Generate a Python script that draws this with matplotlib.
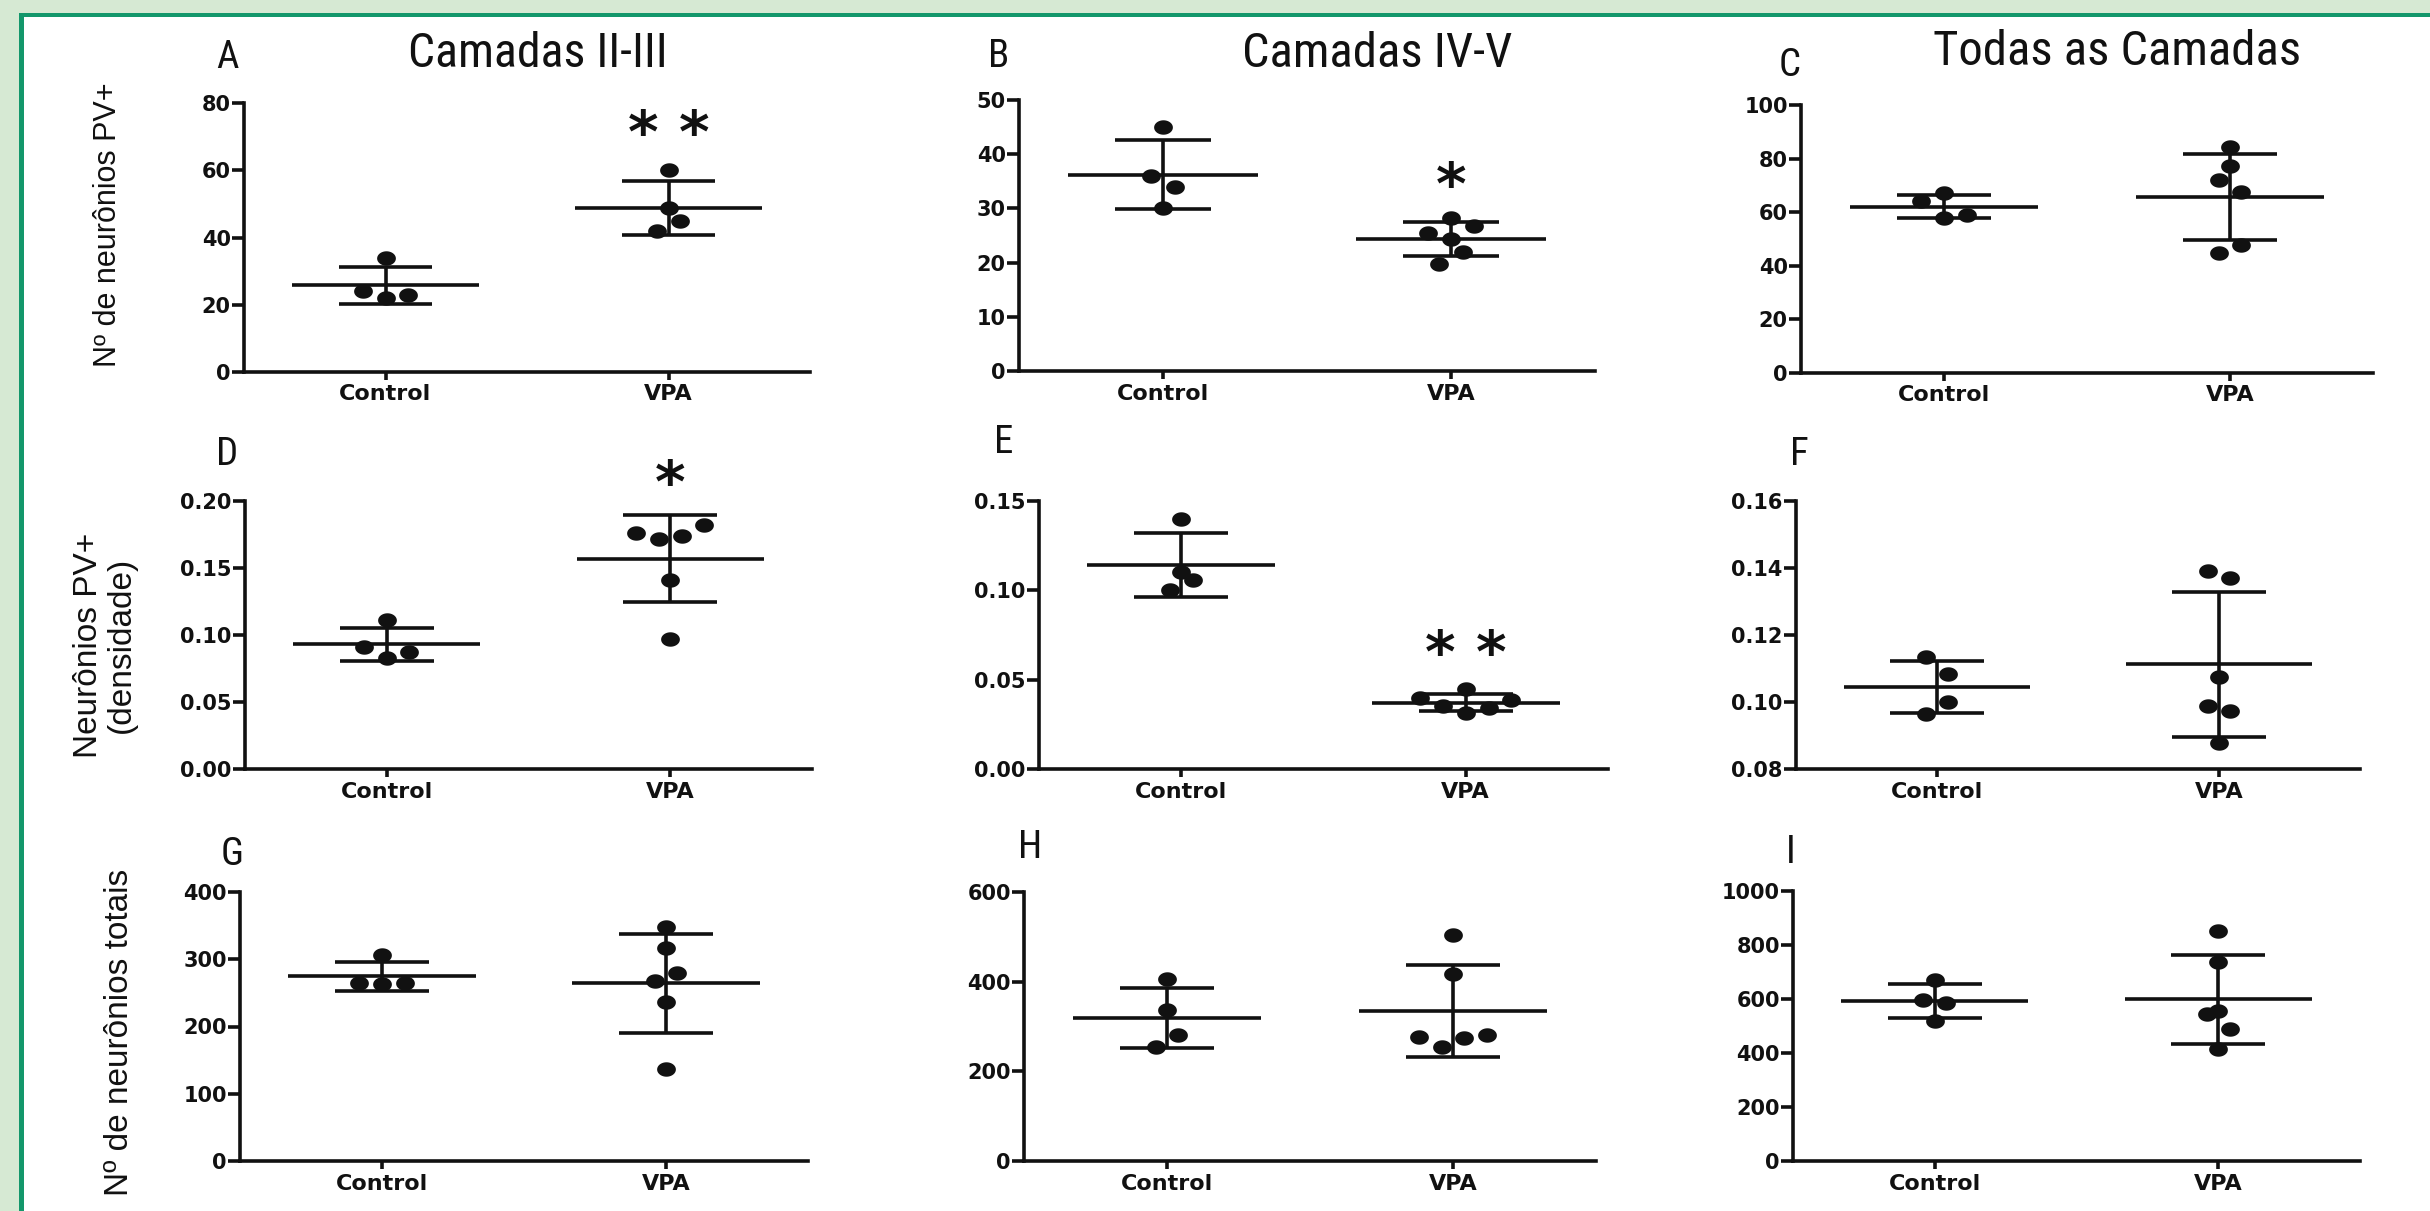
import os
import numpy as np
import matplotlib
matplotlib.use("Agg")
import matplotlib.pyplot as plt
from matplotlib.path import Path
from matplotlib.patches import Rectangle
from matplotlib import font_manager as fm
from matplotlib.ticker import FormatStrFormatter
import matplotlib.transforms as mtransforms

# ---------------- data ----------------
groups = ["Control", "VPA"]

a_control = [34, 24, 22, 23]
a_vpa = [60, 48.7, 44.8, 41.8]
b_control = [45, 36, 34, 30]
b_vpa = [28.3, 25.4, 26.8, 24.4, 21.9, 19.8]
c_control = [64, 67, 58, 59]
c_vpa = [84.5, 77.4, 72.0, 67.5, 47.8, 44.7]
d_control = [0.111, 0.091, 0.087, 0.083]
d_vpa = [0.176, 0.172, 0.174, 0.182, 0.141, 0.097]
e_control = [0.140, 0.110, 0.106, 0.100]
e_vpa = [0.0395, 0.0445, 0.0386, 0.0354, 0.0339, 0.0311]
f_control = [0.1133, 0.1083, 0.0999, 0.0963]
f_vpa = [0.1391, 0.1370, 0.1074, 0.0988, 0.0973, 0.0877]
g_control = [307, 264, 263, 264]
g_vpa = [348, 317, 280, 268, 237, 137]
h_control = [405, 336, 282, 254]
h_vpa = [503, 418, 277, 275, 280, 254]
i_control = [669, 597, 586, 517]
i_vpa = [852, 736, 544, 555, 490, 414]

a_ticks = [0, 20, 40, 60, 80]
b_ticks = [0, 10, 20, 30, 40, 50]
c_ticks = [0, 20, 40, 60, 80, 100]
d_ticks = [0.00, 0.05, 0.10, 0.15, 0.20]
e_ticks = [0.00, 0.05, 0.10, 0.15]
f_ticks = [0.08, 0.10, 0.12, 0.14, 0.16]
g_ticks = [0, 100, 200, 300, 400]
h_ticks = [0, 200, 400, 600]
i_ticks = [0, 200, 400, 600, 800, 1000]

col_titles = ["Camadas II-III", "Camadas IV-V", "Todas as Camadas"]
row_labels = ["Nº de neurônios PV+", "Neurônios PV+\n(densidade)", "Nº de neurônios totais"]
panel_letters = ["A", "B", "C", "D", "E", "F", "G", "H", "I"]

# ---------------- layout / style ----------------
W, H = 2430, 1211
K = "#111111"
LW = 2.6

# horizontal spread of the dots (data units), per group
a_dx = ([0, -0.08, 0, 0.08], [0, 0, 0.04, -0.04])
b_dx = ([0, -0.04, 0.04, 0], [0, -0.08, 0.08, 0, 0.04, -0.04])
c_dx = ([-0.08, 0, 0, 0.08], [0, 0, -0.04, 0.04, 0.04, -0.04])
d_dx = ([0, -0.08, 0.08, 0], [-0.12, -0.04, 0.04, 0.12, 0, 0])
e_dx = ([0, 0, 0.04, -0.04], [-0.16, 0, 0.16, -0.08, 0.08, 0])
f_dx = ([-0.04, 0.04, 0.04, -0.04], [-0.04, 0.04, 0, -0.04, 0.04, 0])
g_dx = ([0, -0.08, 0, 0.08], [0, 0, 0.04, -0.04, 0, 0])
h_dx = ([0, 0, 0.04, -0.04], [0, 0, -0.12, 0.04, 0.12, -0.04])
i_dx = ([0, -0.04, 0.04, 0], [0, 0, -0.04, 0, 0.04, 0])

# axes boxes in pixels: left, right, top(tick max), bottom(tick min)
panels = [
    dict(c=a_control, v=a_vpa, dx=a_dx, ticks=a_ticks, fmt="%d", box=(244, 810, 103, 372),
         sig="* *", sig_xy=(1.0, 74.9)),
    dict(c=b_control, v=b_vpa, dx=b_dx, ticks=b_ticks, fmt="%d", box=(1019, 1595, 100, 371),
         sig="*", sig_xy=(1.0, 36.7)),
    dict(c=c_control, v=c_vpa, dx=c_dx, ticks=c_ticks, fmt="%d", box=(1801, 2373, 105, 373),
         sig=None, sig_xy=None),
    dict(c=d_control, v=d_vpa, dx=d_dx, ticks=d_ticks, fmt="%.2f", box=(245, 812, 501, 769),
         sig="*", sig_xy=(1.0, 0.223)),
    dict(c=e_control, v=e_vpa, dx=e_dx, ticks=e_ticks, fmt="%.2f", box=(1039, 1608, 501, 769),
         sig="* *", sig_xy=(1.0, 0.072)),
    dict(c=f_control, v=f_vpa, dx=f_dx, ticks=f_ticks, fmt="%.2f", box=(1796, 2360, 501, 769),
         sig=None, sig_xy=None),
    dict(c=g_control, v=g_vpa, dx=g_dx, ticks=g_ticks, fmt="%d", box=(240, 808, 892, 1161),
         sig=None, sig_xy=None),
    dict(c=h_control, v=h_vpa, dx=h_dx, ticks=h_ticks, fmt="%d", box=(1024, 1596, 892, 1161),
         sig=None, sig_xy=None),
    dict(c=i_control, v=i_vpa, dx=i_dx, ticks=i_ticks, fmt="%d", box=(1793, 2360, 891, 1161),
         sig=None, sig_xy=None),
]

letter_pos = [(227, 68), (999, 67), (1790, 76), (227, 465), (1004, 453), (1799, 465),
              (232, 865), (1030, 858), (1791, 863)]
# title: centre x, baseline y, target width (px)
title_pos = [(538, 67, 260), (1377, 67, 273), (2117, 65, 368)]
rowlabel_pos = [(108, 225, 22), (105, 645, 24), (120, 1032, 24)]


def pick_narrow():
    prefs = ["LiberationSansNarrow-Regular", "ArialNarrow", "Arial Narrow",
             "NotoSans-ExtraCondensed.", "NotoSans-Condensed.",
             "RobotoCondensed-Regular", "OpenSans_Condensed-Regular",
             "OpenSans-CondensedRegular", "NotoSans-SemiCondensed.", "DejaVuSansCondensed."]
    files = [f.fname for f in fm.fontManager.ttflist]
    for p in prefs:
        for fn in files:
            if p in os.path.basename(fn):
                return fm.FontProperties(fname=fn)
    return fm.FontProperties(family="DejaVu Sans", stretch="condensed")


NARROW = pick_narrow()
SANS = ["Liberation Sans", "DejaVu Sans"]

# elliptical dot (graph images are horizontally stretched)
th = np.linspace(0, 2 * np.pi, 72)
ell = Path(np.column_stack([1.3 * np.cos(th), np.sin(th)]), closed=True)

fig = plt.figure(figsize=(W / 100, H / 100), dpi=100)
fig.patch.set_facecolor("#d6e9d3")
fig.add_artist(Rectangle((24 / W, 0), 1, 1 - 17 / H, transform=fig.transFigure,
                         fc="white", ec="none", zorder=-5))
fig.add_artist(Rectangle((19 / W, 1 - 17 / H), 1, 4 / H, transform=fig.transFigure,
                         fc="#13976b", ec="none", zorder=-4))
fig.add_artist(Rectangle((19 / W, 0), 5 / W, 1 - 13 / H, transform=fig.transFigure,
                         fc="#13976b", ec="none", zorder=-4))

for p in panels:
    l, r, t, b = p["box"]
    ax = fig.add_axes([l / W, 1 - b / H, (r - l) / W, (b - t) / H])
    ax.set_facecolor("none")
    ax.set_xlim(-0.5, 1.5)
    ax.set_ylim(p["ticks"][0], p["ticks"][-1])
    for gi, (vals, dx) in enumerate([(p["c"], p["dx"][0]), (p["v"], p["dx"][1])]):
        vals = np.asarray(vals, dtype=float)
        m = vals.mean()
        s = vals.std(ddof=1)
        ax.hlines(m, gi - 0.33, gi + 0.33, color=K, lw=LW, zorder=2)
        ax.hlines([m - s, m + s], gi - 0.165, gi + 0.165, color=K, lw=LW, zorder=2)
        ax.vlines(gi, m - s, m + s, color=K, lw=LW, zorder=2)
        ax.plot(gi + np.asarray(dx), vals, ls="none", marker=ell, ms=13.5,
                mfc=K, mec=K, mew=0, zorder=3, clip_on=False)
    for sp in ("top", "right"):
        ax.spines[sp].set_visible(False)
    for sp in ("left", "bottom"):
        ax.spines[sp].set_linewidth(LW)
        ax.spines[sp].set_color(K)
    ax.set_xticks([0, 1])
    ax.set_xticklabels(groups)
    ax.set_yticks(p["ticks"])
    ax.yaxis.set_major_formatter(FormatStrFormatter(p["fmt"]))
    ax.tick_params(axis="x", length=6, width=LW, pad=3, labelsize=16, colors=K)
    ax.tick_params(axis="y", length=8.5, width=LW, pad=1, labelsize=15, colors=K)
    for lab in ax.get_xticklabels() + ax.get_yticklabels():
        lab.set_fontweight("bold")
        lab.set_family("DejaVu Sans")
    if p["sig"]:
        fs = 42
        off = mtransforms.ScaledTranslation(0, -0.55 * fs / 72, fig.dpi_scale_trans)
        ax.text(p["sig_xy"][0], p["sig_xy"][1], p["sig"], ha="center", va="baseline",
                fontsize=fs, fontweight="bold", family="DejaVu Sans", color=K,
                transform=ax.transData + off, clip_on=False)

renderer = fig.canvas.get_renderer()
for (x, y), s in zip(letter_pos, panel_letters):
    fig.text(x / W, 1 - y / H, s, ha="center", va="baseline", fontproperties=NARROW,
             fontsize=28, color=K)
for (x, y, tw), s in zip(title_pos, col_titles):
    t = fig.text(x / W, 1 - y / H, s, ha="center", va="baseline", fontproperties=NARROW,
                 fontsize=32, color=K)
    w = t.get_window_extent(renderer).width
    t.set_fontsize(min(35, 32 * tw / w))
for (x, y, fs), s in zip(rowlabel_pos, row_labels):
    fig.text(x / W, 1 - y / H, s, ha="center", va="center", rotation=90, fontsize=fs,
             color=K, family=SANS, linespacing=1.05, multialignment="center")

fig.savefig("out.png", dpi=100, facecolor=fig.get_facecolor())
